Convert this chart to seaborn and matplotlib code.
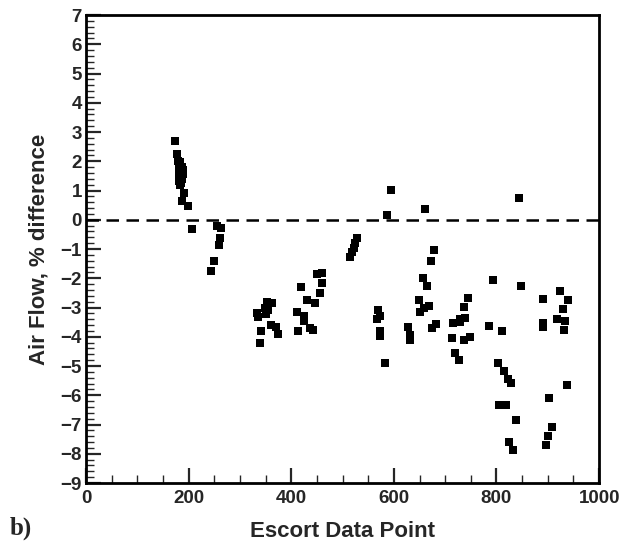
import matplotlib
matplotlib.use('Agg')
import matplotlib.pyplot as plt
import seaborn as sns
import pandas as pd
from matplotlib.ticker import MultipleLocator


# values
escort_x = [174, 177, 180, 184, 181, 188, 183, 190, 186, 181, 189, 184, 187, 182, 186, 183,
            191, 187, 198, 206,
            256, 263, 261, 260, 250, 244,
            352, 362, 349, 355, 333, 336, 350, 361, 370, 342, 374, 339,
            420, 450, 459, 459, 456, 430, 446, 411, 425, 424, 414, 437, 443,
            528, 525, 522, 518, 515,
            570, 573, 567, 573, 573, 582, 586, 594,
            678, 672, 656, 665, 649, 669, 659, 651, 628, 632, 632, 682, 674, 661,
            744, 736, 739, 729, 716, 729, 713, 736, 749, 719, 726,
            794, 848, 786, 810, 802, 814, 823, 829, 805, 818, 838, 825, 833, 843,
            924, 940, 890, 929, 891, 891, 918, 933, 931, 937, 903, 909, 900, 896]
air_flow = [2.68, 2.25, 2.02, 1.97, 1.85, 1.82, 1.72, 1.70, 1.62, 1.58, 1.55, 1.48, 1.40, 1.32, 1.25, 1.18,
            0.91, 0.63, 0.48, -0.31,
            -0.21, -0.28, -0.63, -0.86, -1.40, -1.75,
            -2.80, -2.83, -3.03, -3.10, -3.20, -3.33, -3.22, -3.60, -3.65, -3.79, -3.90, -4.20,
            -2.31, -1.85, -1.83, -2.15, -2.51, -2.76, -2.85, -3.17, -3.29, -3.45, -3.82, -3.71, -3.77,
            -0.63, -0.80, -0.95, -1.10, -1.26,
            -3.10, -3.29, -3.40, -3.79, -3.97, -4.89, 0.17, 1.03,
            -1.03, -1.40, -2.00, -2.28, -2.74, -2.95, -3.03, -3.17, -3.68, -3.94, -4.11, -3.56, -3.71, 0.37,
            -2.68, -2.97, -3.37, -3.40, -3.52, -3.51, -4.05, -4.11, -4.02, -4.54, -4.79,
            -2.05, -2.28, -3.63, -3.79, -4.91, -5.16, -5.46, -5.59, -6.34, -6.34, -6.85, -7.61, -7.88, 0.76,
            -2.42, -2.74, -2.72, -3.06, -3.52, -3.68, -3.40, -3.45, -3.77, -5.65, -6.11, -7.10, -7.39, -7.71]

df = pd.DataFrame({'x': escort_x, 'y': air_flow})

sns.set_style('ticks')
plt.rcParams['font.family'] = ['Liberation Sans', 'DejaVu Sans']

fig = plt.figure(figsize=(6.32, 5.48), dpi=100)
ax = fig.add_axes([0.136, 0.1186, 0.812, 0.854])

sns.scatterplot(data=df, x='x', y='y', marker='s', s=36, color='black',
                linewidth=0, ax=ax, zorder=3)
ax.axhline(0, color='black', lw=1.8, dashes=(5, 3), zorder=2)

ax.set_xlim(0, 1000)
ax.set_ylim(-9, 7)
ax.xaxis.set_major_locator(MultipleLocator(200))
ax.xaxis.set_minor_locator(MultipleLocator(50))
ax.yaxis.set_major_locator(MultipleLocator(1))
ax.yaxis.set_minor_locator(MultipleLocator(0.2))
ax.tick_params(which='both', direction='in', top=False, right=False, width=1.6,
               labelsize=13.5)
ax.tick_params(axis='x', pad=5)
ax.tick_params(axis='y', pad=3)
ax.tick_params(which='major', length=11)
ax.tick_params(which='minor', length=6, width=1.0)
for lab in ax.get_xticklabels() + ax.get_yticklabels():
    lab.set_fontweight('bold')
for sp in ax.spines.values():
    sp.set_linewidth(2)
    sp.set_color('black')

ax.set_xlabel('Escort Data Point', fontsize=16, fontweight='bold', labelpad=10)
ax.set_ylabel('Air Flow, % difference', fontsize=16, fontweight='bold', labelpad=8)

fig.text(0.015, 0.025, 'b)', fontsize=18, fontweight='bold', family='Liberation Serif')

fig.savefig('out.png', dpi=100)
